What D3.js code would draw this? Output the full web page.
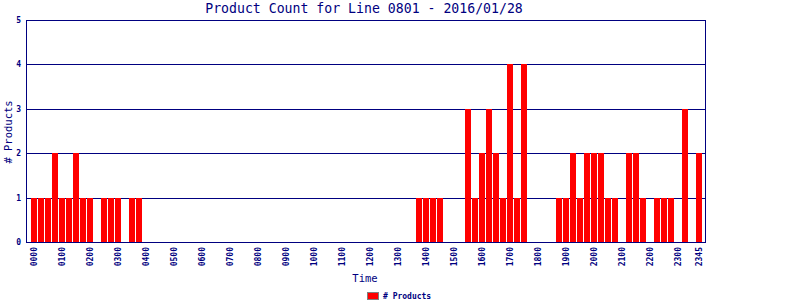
<!DOCTYPE html>
<html>
<head>
<meta charset="utf-8">
<script src="https://cdn.jsdelivr.net/npm/d3@7"></script>
<style>
  body { margin: 0; background: #fff; }
  svg { display: block; }
  text { font-family: "DejaVu Sans Mono", monospace; fill: #000080; }
</style>
</head>
<body>
<svg id="chart" width="800" height="300"></svg>
<script>
// product counts per 15 minute slot, one row per hour
const counts = [
  1, 1, 1, 2,   // 00
  1, 1, 2, 1,   // 01
  1, 0, 1, 1,   // 02
  1, 0, 1, 1,   // 03
  0, 0, 0, 0,   // 04
  0, 0, 0, 0,   // 05
  0, 0, 0, 0,   // 06
  0, 0, 0, 0,   // 07
  0, 0, 0, 0,   // 08
  0, 0, 0, 0,   // 09
  0, 0, 0, 0,   // 10
  0, 0, 0, 0,   // 11
  0, 0, 0, 0,   // 12
  0, 0, 0, 1,   // 13
  1, 1, 1, 0,   // 14
  0, 0, 3, 1,   // 15
  2, 3, 2, 1,   // 16
  4, 1, 4, 0,   // 17
  0, 0, 0, 1,   // 18
  1, 2, 1, 2,   // 19
  2, 2, 1, 1,   // 20
  0, 2, 2, 1,   // 21
  0, 1, 1, 1,   // 22
  0, 3, 0, 2    // 23
];
const hours = ["00","01","02","03","04","05","06","07","08","09","10","11",
               "12","13","14","15","16","17","18","19","20","21","22","23"];
const quarters = ["00", "15", "30", "45"];
const tickLabels = ["0000","0100","0200","0300","0400","0500","0600","0700",
                    "0800","0900","1000","1100","1200","1300","1400","1500",
                    "1600","1700","1800","1900","2000","2100","2200","2300","2345"];
const yTicks = [0, 1, 2, 3, 4, 5];

const title = "Product Count for Line 0801 - 2016/01/28";
const navy = "#000080";

// slot names like "0815"
const slots = hours.flatMap(h => quarters.map(q => h + q));
const data = slots.map((s, i) => ({ time: s, value: counts[i] }));

const plot = { left: 26, right: 705, top: 20, bottom: 242 };

const svg = d3.select("#chart");

const xScale = d3.scaleBand()
  .domain(slots)
  .range([30.5, 702.5])
  .paddingInner(1 / 7)
  .paddingOuter(1 / 14);

const yScale = d3.scaleLinear()
  .domain([0, 5])
  .range([plot.bottom, plot.top]);

const crisp = v => Math.round(v) + 0.5;

// horizontal grid lines
svg.append("g")
  .selectAll("line")
  .data(yTicks.slice(1, -1))
  .join("line")
  .attr("x1", plot.left)
  .attr("x2", plot.right)
  .attr("y1", d => crisp(yScale(d)))
  .attr("y2", d => crisp(yScale(d)))
  .attr("stroke", navy)
  .attr("stroke-width", 1);

// bars
svg.append("g")
  .selectAll("rect")
  .data(data.filter(d => d.value > 0))
  .join("rect")
  .attr("x", d => xScale(d.time))
  .attr("width", xScale.bandwidth())
  .attr("y", d => Math.round(yScale(d.value)))
  .attr("height", d => plot.bottom - Math.round(yScale(d.value)))
  .attr("fill", "#ff0000");

// frame
svg.append("rect")
  .attr("x", plot.left + 0.5)
  .attr("y", plot.top + 0.5)
  .attr("width", plot.right - plot.left)
  .attr("height", plot.bottom - plot.top)
  .attr("fill", "none")
  .attr("stroke", navy);

// y axis labels
const yAxis = d3.axisLeft(yScale)
  .tickValues(yTicks)
  .tickSize(0)
  .tickPadding(5)
  .tickFormat(d3.format("d"));

svg.append("g")
  .attr("transform", "translate(" + plot.left + ",0)")
  .call(yAxis)
  .call(g => g.select(".domain").remove())
  .call(g => g.selectAll("text")
    .attr("font-family", "DejaVu Sans Mono")
    .attr("font-size", 8)
    .attr("font-weight", "bold")
    .attr("fill", navy));

// x axis labels, rotated
const xAxis = d3.axisBottom(xScale)
  .tickValues(tickLabels)
  .tickSize(0)
  .tickPadding(0);

svg.append("g")
  .attr("transform", "translate(0," + plot.bottom + ")")
  .call(xAxis)
  .call(g => g.select(".domain").remove())
  .call(g => g.selectAll("text")
    .attr("font-family", "DejaVu Sans Mono")
    .attr("font-size", 8)
    .attr("font-weight", "bold")
    .attr("fill", navy)
    .attr("text-anchor", "end")
    .attr("transform", "translate(0,5) rotate(-90)")
    .attr("x", 0)
    .attr("y", 0)
    .attr("dy", "0.35em"));

// title
svg.append("text")
  .attr("x", 364)
  .attr("y", 13)
  .attr("text-anchor", "middle")
  .attr("font-size", 13.2)
  .text(title);

// axis titles
svg.append("text")
  .attr("x", 365)
  .attr("y", 282)
  .attr("text-anchor", "middle")
  .attr("font-size", 10.5)
  .text("Time");

svg.append("text")
  .attr("transform", "translate(12,132) rotate(-90)")
  .attr("text-anchor", "middle")
  .attr("font-size", 10.5)
  .text("# Products");

// legend
const legend = svg.append("g").attr("transform", "translate(367,292)");
legend.append("rect")
  .attr("x", 0.5)
  .attr("y", 0.5)
  .attr("width", 11)
  .attr("height", 7)
  .attr("fill", "#ff0000")
  .attr("stroke", "#808080");
legend.append("text")
  .attr("x", 16)
  .attr("y", 7)
  .attr("font-size", 8)
  .attr("font-weight", "bold")
  .text("# Products");
</script>
</body>
</html>
